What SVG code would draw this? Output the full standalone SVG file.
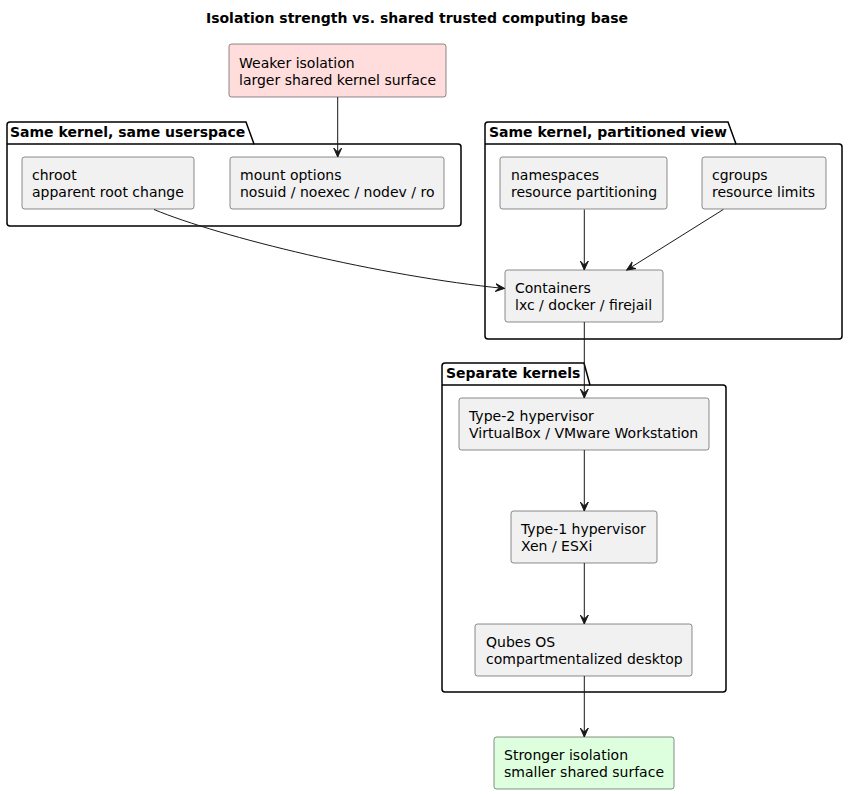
<svg xmlns="http://www.w3.org/2000/svg" width="848" height="794" viewBox="0 0 848 794">
<defs>
<style>
text{font-family:"DejaVu Sans","Liberation Sans",sans-serif;font-size:14px;fill:#000}
.b{font-weight:bold}
.node{fill:#F1F1F1;stroke:#181818;stroke-width:0.5}
.pk{fill:none;stroke:#000;stroke-width:1.5}
.edge{fill:none;stroke:#181818;stroke-width:1}
</style>
<marker id="ah" viewBox="0 0 10 10" refX="9" refY="5" markerWidth="10" markerHeight="10" markerUnits="userSpaceOnUse" orient="auto">
<path d="M0,1 L9,5 L0,9 L4,5 Z" fill="#181818" stroke="#181818" stroke-width="1"/>
</marker>
</defs>
<rect width="848" height="794" fill="#FFFFFF"/>
<text class="b" x="417" y="23" text-anchor="middle">Isolation strength vs. shared trusted computing base</text>

<g id="pkg-same-userspace">
<path class="pk" d="M7,125 A3,3 0 0 1 10,122 L246,122 L254,144 L458,144 A3,3 0 0 1 461,147 L461,223 A3,3 0 0 1 458,226 L10,226 A3,3 0 0 1 7,223 Z"/>
<path class="pk" d="M7,144 L254,144"/>
<text class="b" x="10" y="137">Same kernel, same userspace</text>
</g>
<g id="pkg-partitioned">
<path class="pk" d="M485,125 A3,3 0 0 1 488,122 L728,122 L736,144 L839,144 A3,3 0 0 1 842,147 L842,336 A3,3 0 0 1 839,339 L488,339 A3,3 0 0 1 485,336 Z"/>
<path class="pk" d="M485,144 L736,144"/>
<text class="b" x="489" y="137">Same kernel, partitioned view</text>
</g>
<g id="pkg-separate">
<path class="pk" d="M442,366 A3,3 0 0 1 445,363 L584,363 L590,385 L723,385 A3,3 0 0 1 726,388 L726,689 A3,3 0 0 1 723,692 L445,692 A3,3 0 0 1 442,689 Z"/>
<path class="pk" d="M442,385 L590,385"/>
<text class="b" x="446" y="378">Separate kernels</text>
</g>

<g id="weaker">
<rect x="229" y="44" width="217" height="53" rx="2.5" fill="#FFDDDD" stroke="#181818" stroke-width="0.5"/>
<text x="239" y="68">Weaker isolation</text>
<text x="239" y="85">larger shared kernel surface</text>
</g>
<g id="chroot">
<rect class="node" x="22" y="157" width="172" height="52" rx="2.5"/>
<text x="32" y="180">chroot</text>
<text x="32" y="197">apparent root change</text>
</g>
<g id="mount">
<rect class="node" x="230" y="157" width="214" height="52" rx="2.5"/>
<text x="240" y="180">mount options</text>
<text x="240" y="197">nosuid / noexec / nodev / ro</text>
</g>
<g id="namespaces">
<rect class="node" x="500" y="157" width="167" height="52" rx="2.5"/>
<text x="511" y="180">namespaces</text>
<text x="511" y="197">resource partitioning</text>
</g>
<g id="cgroups">
<rect class="node" x="702" y="157" width="124" height="52" rx="2.5"/>
<text x="712" y="180">cgroups</text>
<text x="712" y="197">resource limits</text>
</g>
<g id="containers">
<rect class="node" x="505" y="270" width="158" height="52" rx="2.5"/>
<text x="515" y="293">Containers</text>
<text x="515" y="310">lxc / docker / firejail</text>
</g>
<g id="type2">
<rect class="node" x="459" y="398" width="250" height="52" rx="2.5"/>
<text x="469" y="421">Type-2 hypervisor</text>
<text x="469" y="438">VirtualBox / VMware Workstation</text>
</g>
<g id="type1">
<rect class="node" x="511" y="511" width="146" height="52" rx="2.5"/>
<text x="521" y="534">Type-1 hypervisor</text>
<text x="521" y="551">Xen / ESXi</text>
</g>
<g id="qubes">
<rect class="node" x="475" y="624" width="217" height="52" rx="2.5"/>
<text x="486" y="647">Qubes OS</text>
<text x="486" y="664">compartmentalized desktop</text>
</g>
<g id="stronger">
<rect x="494" y="737" width="180" height="52" rx="2.5" fill="#DDFFDD" stroke="#181818" stroke-width="0.5"/>
<text x="504" y="760">Stronger isolation</text>
<text x="504" y="777">smaller shared surface</text>
</g>

<g id="connectors">
<path class="edge" marker-end="url(#ah)" d="M337.7,97 L337.7,157"/>
<path class="edge" marker-end="url(#ah)" d="M154,209.5 C220,237 380,276 504.5,288.5"/>
<path class="edge" marker-end="url(#ah)" d="M584.3,209.5 L584.3,270"/>
<path class="edge" marker-end="url(#ah)" d="M723.3,209.5 L626.7,270"/>
<path class="edge" marker-end="url(#ah)" d="M584.3,322 L584.3,398"/>
<path class="edge" marker-end="url(#ah)" d="M584.3,450 L584.3,511"/>
<path class="edge" marker-end="url(#ah)" d="M584.3,563 L584.3,624"/>
<path class="edge" marker-end="url(#ah)" d="M584.3,676 L584.3,737"/>
</g>
</svg>
